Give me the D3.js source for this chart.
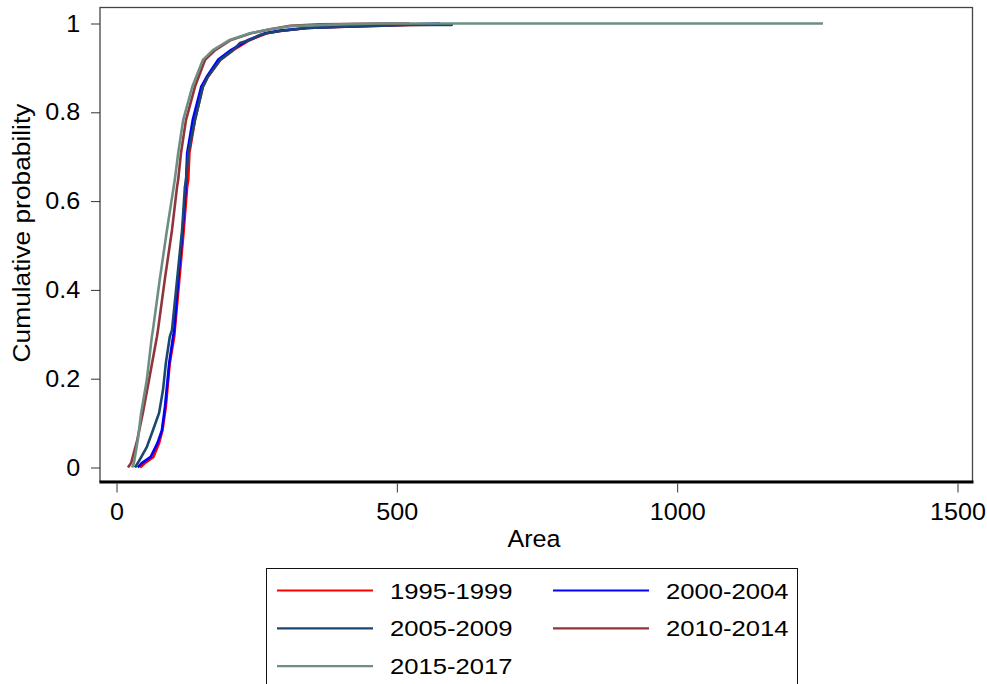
<!DOCTYPE html>
<html>
<head>
<meta charset="utf-8">
<script src="https://cdn.jsdelivr.net/npm/d3@7"></script>
<style>
  body { margin: 0; background: #fff; }
  svg { display: block; font-family: 'Liberation Sans', Arial, sans-serif; }
</style>
</head>
<body>
<svg width="987" height="684"></svg>
<script>
const seriesNames = ['1995-1999', '2000-2004', '2005-2009', '2010-2014', '2015-2017']
const seriesColors = ['#ff0000', '#0000ff', '#1a476f', '#90353b', '#6e8e84']

// [area, cumulative probability]
const cdf1995 = [[42, 0], [51, 0.01], [66, 0.024], [76, 0.055], [82, 0.084], [88, 0.137], [95, 0.235],
  [103, 0.295], [104, 0.31], [112, 0.422], [120, 0.535], [126, 0.632], [128, 0.648], [130, 0.708],
  [140, 0.783], [154, 0.857], [163, 0.88], [185, 0.918], [208, 0.94], [238, 0.963], [268, 0.978],
  [292, 0.983], [340, 0.99], [393, 0.992], [523, 0.997], [598, 0.998], [598, 1]]
const cdf2000 = [[38, 0], [45, 0.01], [61, 0.024], [73, 0.055], [81, 0.084], [86.5, 0.137], [94, 0.235],
  [101, 0.295], [103, 0.31], [110, 0.422], [118, 0.535], [124, 0.64], [126, 0.708], [136, 0.783],
  [151, 0.857], [161, 0.88], [181, 0.918], [204, 0.94], [235, 0.963], [265, 0.978], [292, 0.984],
  [340, 0.99], [399, 0.993], [577, 1]]
const cdf2005 = [[33, 0], [38, 0.01], [54, 0.046], [65, 0.084], [76, 0.123], [83, 0.175], [88, 0.235],
  [95, 0.294], [99, 0.31], [108, 0.422], [117, 0.535], [122, 0.632], [124, 0.648], [128, 0.708],
  [140, 0.783], [154, 0.857], [163, 0.88], [185, 0.918], [208, 0.94], [220, 0.956], [238, 0.963],
  [256, 0.974], [268, 0.978], [292, 0.983], [340, 0.99], [393, 0.992], [523, 0.997], [598, 0.997], [598, 1]]
const cdf2010 = [[20.5, 0], [26, 0.01], [37, 0.062], [47, 0.123], [58, 0.197], [72, 0.294], [74, 0.31],
  [86, 0.422], [99, 0.535], [108, 0.632], [110, 0.648], [115, 0.708], [124, 0.783], [140, 0.858],
  [158, 0.918], [176, 0.94], [204, 0.963], [240, 0.978], [274, 0.987], [310, 0.995], [363, 0.998],
  [491, 1], [523, 1]]
const cdf2015 = [[28, 0], [31, 0.01], [38, 0.062], [44, 0.123], [54, 0.197], [63, 0.294], [65, 0.31],
  [77, 0.422], [90, 0.535], [104, 0.648], [110, 0.708], [119, 0.783], [135, 0.857], [154, 0.918],
  [172, 0.94], [202, 0.963], [238, 0.978], [274, 0.987], [310, 0.994], [399, 0.998], [470, 1], [1260, 1]]
const seriesData = [cdf1995, cdf2000, cdf2005, cdf2010, cdf2015]

const xTicks = [0, 500, 1000, 1500]
const yTicks = [0, 0.2, 0.4, 0.6, 0.8, 1]

const svg = d3.select('svg')
const frame = { left: 100, right: 972.5, top: 7.5, bottom: 481.5 }

svg.append('rect')
  .attr('width', 987).attr('height', 684).attr('fill', '#fff')

const x = d3.scaleLinear()
            .domain([0, 1500])
            .range([116.5, 957.5])

const y = d3.scaleLinear()
            .domain([0, 1])
            .range([467.5, 23.5])

svg.append('rect')
  .attr('x', frame.left)
  .attr('y', frame.top)
  .attr('width', frame.right - frame.left)
  .attr('height', frame.bottom - frame.top)
  .attr('fill', 'none')
  .attr('stroke', '#444')
  .attr('stroke-width', 1.3)

const line = d3.line()
               .x(d => x(d[0]))
               .y(d => y(d[1]))

svg.selectAll('.cdf')
  .data(seriesData)
  .enter().append('path')
  .attr('class', 'cdf')
  .attr('fill', 'none')
  .attr('stroke', (d, i) => seriesColors[i])
  .attr('stroke-width', 2.6)
  .attr('stroke-linejoin', 'round')
  .attr('d', line)

// x axis
svg.append('line')
  .attr('x1', frame.left - 0.5).attr('x2', frame.right + 1)
  .attr('y1', 482).attr('y2', 482)
  .attr('stroke', '#000')
  .attr('stroke-width', 3)

const xAxis = svg.append('g')
  .attr('transform', 'translate(0,483.5)')
  .call(d3.axisBottom(x).tickValues(xTicks).tickSize(9).tickPadding(10.5).tickFormat(d3.format('d')))
xAxis.select('.domain').remove()
xAxis.selectAll('line').attr('stroke', '#333')
xAxis.selectAll('text')
  .attr('font-size', 23.5)
  .attr('font-family', "'Liberation Sans', Arial, sans-serif")
  .attr('fill', '#000')
  .attr('transform', 'scale(1.07,1)')

// y axis
const yAxis = svg.append('g')
  .attr('transform', `translate(${frame.left},0)`)
  .call(d3.axisLeft(y).tickValues(yTicks).tickSize(9).tickPadding(9.5).tickFormat(d => String(d)))
yAxis.select('.domain').remove()
yAxis.selectAll('line').attr('stroke', '#333')
yAxis.selectAll('text')
  .attr('font-size', 23.5)
  .attr('font-family', "'Liberation Sans', Arial, sans-serif")
  .attr('fill', '#000')
  .attr('transform', 'scale(1.07,1)')

svg.append('text')
  .attr('transform', 'translate(534,547) scale(1.07,1)')
  .attr('text-anchor', 'middle')
  .attr('font-size', 23.5)
  .text('Area')

svg.append('text')
  .attr('transform', 'translate(30,233) rotate(-90) scale(1.12,1)')
  .attr('text-anchor', 'middle')
  .attr('font-size', 23.5)
  .text('Cumulative probability')

// legend
svg.append('rect')
  .attr('x', 266.5).attr('y', 568.5)
  .attr('width', 531).attr('height', 140)
  .attr('fill', 'none')
  .attr('stroke', '#111')
  .attr('stroke-width', 1)

const legendItem = svg.selectAll('.legend')
  .data(seriesNames)
  .enter().append('g')
  .attr('class', 'legend')
  .attr('transform', (d, i) => `translate(${277 + (i % 2) * 276},${590.5 + Math.floor(i / 2) * 37.8})`)

legendItem.append('line')
  .attr('x1', 0).attr('x2', 96)
  .attr('y1', 0).attr('y2', 0)
  .attr('stroke', (d, i) => seriesColors[i])
  .attr('stroke-width', 2.2)

legendItem.append('text')
  .attr('transform', 'translate(113,8) scale(1.15,1)')
  .attr('font-size', 22.3)
  .text(d => d)
</script>
</body>
</html>
